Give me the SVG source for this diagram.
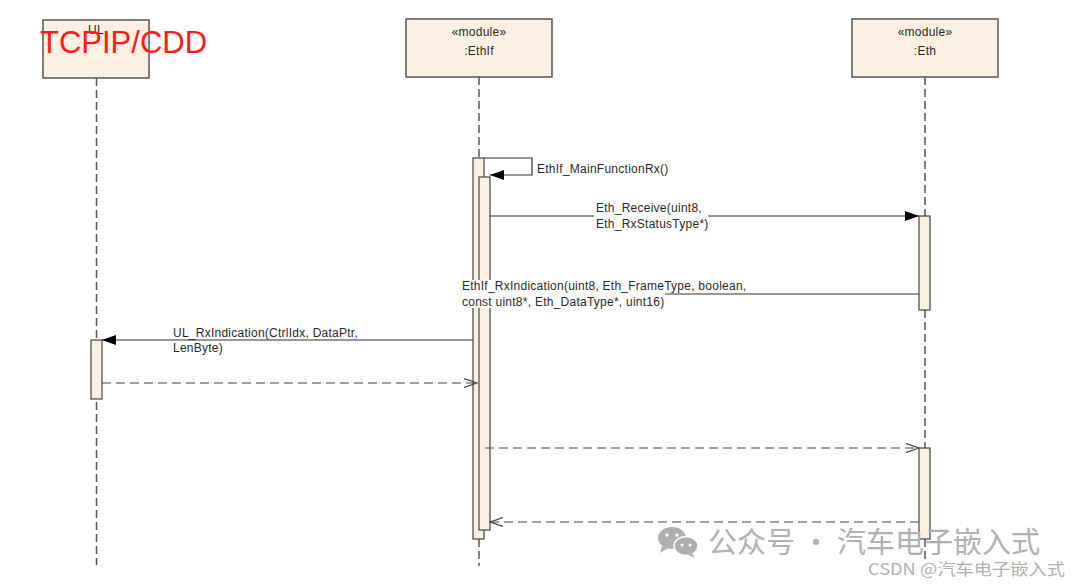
<svg xmlns="http://www.w3.org/2000/svg" width="1080" height="586" viewBox="0 0 1080 586">
<defs>
<style>
.box{fill:#FBF0E1;stroke:#555;stroke-width:1.5}
.bar{fill:#FCF0E1;stroke:#444;stroke-width:1.2}
.life{stroke:#555;stroke-width:1.5;stroke-dasharray:8 4;fill:none}
.msg{stroke:#333;stroke-width:1.2;fill:none}
.ret{stroke:#444;stroke-width:1.2;fill:none;stroke-dasharray:9 5}
.t{font-family:"Liberation Sans",Arial,sans-serif;font-size:12px;fill:#2a2a2a;letter-spacing:0.25px}
.c{text-anchor:middle}
.wm{font-family:"Noto Sans CJK SC","Liberation Sans",sans-serif;fill:#b0b0b0}
</style>
<marker id="fill" viewBox="0 0 14 10" refX="14" refY="5" markerWidth="14" markerHeight="10" markerUnits="userSpaceOnUse" orient="auto">
<path d="M0,0 L14,5 L0,10 Z" fill="#000"/>
</marker>
<marker id="open" viewBox="0 0 14 10" refX="13" refY="5" markerWidth="14" markerHeight="10" markerUnits="userSpaceOnUse" orient="auto">
<path d="M0,0.5 L13,5 L0,9.5" fill="none" stroke="#444" stroke-width="1.2"/>
</marker>
</defs>
<rect width="1080" height="586" fill="#fff"/>

<g id="lifelines">
<line class="life" x1="96.5" y1="78" x2="96.5" y2="565"/>
<line class="life" x1="479" y1="77" x2="479" y2="158"/>
<line class="life" x1="479" y1="539" x2="479" y2="566"/>
<line class="life" x1="925" y1="77" x2="925" y2="216"/>
<line class="life" x1="925" y1="310" x2="925" y2="448"/>
<line class="life" x1="925" y1="539" x2="925" y2="562"/>
</g>

<g id="node-ul">
<rect class="box" x="43" y="20" width="106" height="58"/>
<text class="t c" x="96" y="34">UL</text>
<text x="40" y="53" font-family="'Liberation Sans',Arial,sans-serif" font-size="31" fill="#ff1a1a">TCPIP/CDD</text>
</g>
<g id="node-ethif">
<rect class="box" x="406" y="19" width="146" height="58"/>
<text class="t c" x="479" y="36">«module»</text>
<text class="t c" x="479" y="55">:EthIf</text>
</g>
<g id="node-eth">
<rect class="box" x="852" y="19" width="146" height="58"/>
<text class="t c" x="925" y="36">«module»</text>
<text class="t c" x="925" y="55">:Eth</text>
</g>

<g id="activations">
<rect class="bar" x="473" y="158" width="11" height="381"/>
<rect class="bar" x="479" y="177" width="11" height="353"/>
<rect class="bar" x="919" y="216" width="11" height="94"/>
<rect class="bar" x="919" y="448" width="11" height="91"/>
<rect class="bar" x="91" y="340" width="11" height="59"/>
</g>

<g id="connectors">
<polyline class="msg" points="484,158 532,158 532,175 490,175" marker-end="url(#fill)"/>
<line class="msg" x1="490" y1="216" x2="919" y2="216" marker-end="url(#fill)"/>
<line class="msg" x1="919" y1="294" x2="490" y2="294"/>
<line class="msg" x1="473" y1="340" x2="102" y2="340" marker-end="url(#fill)"/>
<line class="ret" x1="102" y1="383" x2="477" y2="383" marker-end="url(#open)"/>
<line class="ret" x1="485" y1="448" x2="919" y2="448" marker-end="url(#open)"/>
<line class="ret" x1="919" y1="522" x2="490" y2="522" marker-end="url(#open)"/>
</g>

<g id="labels">
<text class="t" x="537" y="173">EthIf_MainFunctionRx()</text>
<rect x="594" y="203" width="114" height="28" fill="#fff"/>
<text class="t" x="596" y="212">Eth_Receive(uint8,</text>
<text class="t" x="596" y="228">Eth_RxStatusType*)</text>
<rect x="461" y="280" width="204" height="28" fill="#fff"/>
<text class="t" x="462" y="290">EthIf_RxIndication(uint8, Eth_FrameType, boolean,</text>
<text class="t" x="462" y="306">const uint8*, Eth_DataType*, uint16)</text>
<rect x="172" y="341" width="54" height="14" fill="#fff"/>
<text class="t" x="173" y="337">UL_RxIndication(CtrlIdx, DataPtr,</text>
<text class="t" x="173" y="352">LenByte)</text>
</g>

<g id="watermark">
<ellipse cx="672" cy="538" rx="14" ry="11" fill="#b0b0b0"/>
<path d="M662,546 L660,553 L668,548 Z" fill="#b0b0b0"/>
<ellipse cx="686" cy="546" rx="12" ry="9.5" fill="#b0b0b0" stroke="#fff" stroke-width="1.5"/>
<path d="M692,553 L695,558 L688,555 Z" fill="#b0b0b0"/>
<circle cx="667" cy="535" r="1.8" fill="#fff"/>
<circle cx="677" cy="535" r="1.8" fill="#fff"/>
<circle cx="682" cy="545" r="1.5" fill="#fff"/>
<circle cx="690" cy="545" r="1.5" fill="#fff"/>
<text class="wm" x="708" y="553" font-size="29">公众号 · 汽车电子嵌入式</text>
<text class="wm" x="868" y="575" font-size="16" textLength="197" lengthAdjust="spacingAndGlyphs">CSDN @汽车电子嵌入式</text>
</g>
</svg>
